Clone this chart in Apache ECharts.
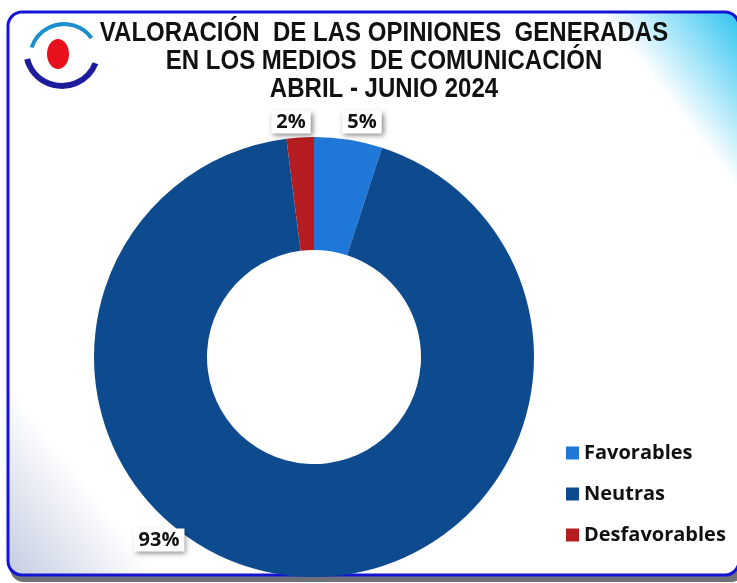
<!DOCTYPE html>
<html>
<head>
<meta charset="utf-8">
<script src="https://cdn.jsdelivr.net/npm/echarts@6/dist/echarts.min.js"></script>
<style>
  html, body { margin: 0; padding: 0; background: #ffffff; }
  #chart { width: 737px; height: 583px; }
</style>
</head>
<body>
<div id="chart"></div>
<script>
// datos del gráfico
const categories = ['Favorables', 'Neutras', 'Desfavorables'];
const values = [5, 93, 2];
const colors = ['#1f78d8', '#0d4a8e', '#b41c1f'];
const titleLines = [
  'VALORACIÓN  DE LAS OPINIONES  GENERADAS',
  'EN LOS MEDIOS  DE COMUNICACIÓN',
  'ABRIL - JUNIO 2024'
];

// posicion de las etiquetas (como en el original de Excel)
const labelPos = [[362, 122], [159, 540], [291, 122]];

const chart = echarts.init(document.getElementById('chart'));

const option = {
  backgroundColor: '#ffffff',
  legend: {
    orient: 'vertical',
    left: 561,
    top: 438,
    itemWidth: 13,
    itemHeight: 13,
    itemGap: 21,
    icon: 'rect',
    textStyle: {
      fontFamily: '"Open Sans", Lato, sans-serif',
      fontWeight: 'bold',
      fontSize: 20,
      color: '#111'
    },
    data: categories
  },
  graphic: [
    // marco
    {
      type: 'rect', z: -10, silent: true,
      shape: { x: 10, y: 16, width: 735, height: 566, r: 14 },
      style: { fill: '#6f7178' }
    },
    {
      type: 'rect', z: -9, silent: true,
      shape: { x: 8, y: 12, width: 731, height: 563, r: 14 },
      style: {
        fill: new echarts.graphic.LinearGradient(0, 1, 1, 0, [
          { offset: 0, color: '#c2cbe0' },
          { offset: 0.13, color: '#ffffff' },
          { offset: 0.88, color: '#ffffff' },
          { offset: 1, color: '#28c2f0' }
        ]),
        stroke: '#1414d6',
        lineWidth: 3
      }
    },
    // logo
    {
      type: 'arc', z: -5, silent: true,
      shape: { cx: 64, cy: 58, r: 34, startAngle: Math.PI * 1.1, endAngle: Math.PI * 1.8 },
      style: { stroke: '#1b8fce', lineWidth: 4, fill: null }
    },
    {
      type: 'arc', z: -5, silent: true,
      shape: { cx: 62, cy: 50, r: 36, startAngle: Math.PI * 0.12, endAngle: Math.PI * 0.92 },
      style: { stroke: '#1c1c9c', lineWidth: 6, fill: null }
    },
    {
      type: 'ellipse', z: -5, silent: true,
      shape: { cx: 58, cy: 54, rx: 11, ry: 15 },
      style: { fill: '#e8101c' }
    },
    // título (letra estrecha como Arial Narrow)
    {
      type: 'text', z: 10, silent: true,
      x: 384, y: 20, scaleX: 0.89,
      style: {
        text: titleLines.join('\n'),
        fontFamily: 'Arial, "Liberation Sans", sans-serif',
        fontWeight: 'bold',
        fontSize: 27,
        lineHeight: 28,
        fill: '#111',
        align: 'center',
        verticalAlign: 'top'
      }
    }
  ],
  series: [
    {
      type: 'pie',
      center: [314, 357],
      radius: [107, 220],
      startAngle: 90,
      clockwise: true,
      avoidLabelOverlap: false,
      data: categories.map((name, i) => ({
        name: name,
        value: values[i],
        itemStyle: { color: colors[i] }
      })),
      label: {
        show: true,
        position: 'outside',
        formatter: p => p.value + '%',
        fontFamily: '"Open Sans", Lato, sans-serif',
        fontWeight: 'bold',
        fontSize: 20,
        color: '#111',
        backgroundColor: '#ffffff',
        padding: [2, 5, 1, 5],
        shadowBlur: 5,
        shadowColor: 'rgba(0,0,0,0.45)',
        shadowOffsetX: 2,
        shadowOffsetY: 2
      },
      labelLine: { show: false },
      labelLayout: function (params) {
        const pos = labelPos[params.dataIndex];
        return { x: pos[0], y: pos[1], align: 'center', verticalAlign: 'middle' };
      },
      emphasis: { scale: false }
    }
  ]
};

chart.setOption(option);
</script>
</body>
</html>
